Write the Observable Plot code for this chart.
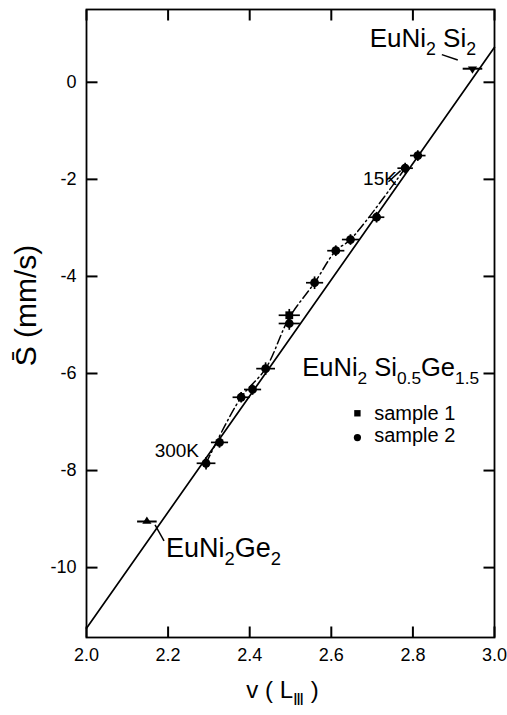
<!DOCTYPE html>
<html><head><meta charset="utf-8">
<script src="https://cdn.jsdelivr.net/npm/d3@7"></script>
<script src="https://cdn.jsdelivr.net/npm/@observablehq/plot@0.6"></script>
<style>html,body{margin:0;padding:0;background:#fff}</style>
</head><body><div id="chart"></div>
<script>
// ---- data ----
const xTicks = [2.0, 2.2, 2.4, 2.6, 2.8, 3.0];
const yTicks = [0, -2, -4, -6, -8, -10];
const xDomain = [2, 3];
const yDomain = [-11.44, 1.5];

// solid reference line
const fitV = [2.0, 3.0];
const fitS = [-11.25, 0.72];

// EuNi2Si0.5Ge1.5 measurements
const pointV = [2.293, 2.326, 2.379, 2.407, 2.439, 2.497, 2.497, 2.559, 2.611, 2.647, 2.711, 2.781, 2.812];
const pointS = [-7.85, -7.42, -6.49, -6.33, -5.90, -4.80, -4.97, -4.13, -3.47, -3.24, -2.78, -1.77, -1.51];
const pointSample = ["sample 2","sample 2","sample 2","sample 2","sample 2","sample 1","sample 2","sample 2","sample 2","sample 2","sample 2","sample 2","sample 2"];
const errV = [0.023, 0.021, 0.021, 0.021, 0.023, 0.026, 0.026, 0.021, 0.021, 0.021, 0.019, 0.019, 0.019];
const errS = [0.13, 0.11, 0.11, 0.11, 0.13, 0.13, 0.13, 0.13, 0.11, 0.11, 0.11, 0.11, 0.11];

// dash-dot guide through the temperature series (300K -> 15K)
const trendV = [2.293, 2.379, 2.439, 2.497, 2.559, 2.611, 2.647, 2.781];
const trendS = [-7.85, -6.49, -5.90, -4.85, -4.13, -3.47, -3.24, -1.77];

// end compounds
const refName = ["EuNi2Si2", "EuNi2Ge2"];
const refV = [2.946, 2.148];
const refS = [0.28, -9.05];
const refErrV = [0.024, 0.024];

// text annotations (x,y in data units, baseline-start)
const noteText = ["EuNi_{2} Si_{2}", "15K", "EuNi_{2} Si_{0.5}Ge_{1.5}", "300K", "EuNi_{2}Ge_{2}"];
const noteV = [2.694, 2.678, 2.529, 2.167, 2.195];
const noteS = [0.73, -2.12, -6.06, -7.72, -9.78];
const noteSize = [26, 19, 25.5, 19, 27];

// leader lines
const leadV1 = [2.871, 2.740, 2.168];
const leadS1 = [0.57, -2.05, -9.12];
const leadV2 = [2.910, 2.770, 2.190];
const leadS2 = [0.46, -1.82, -9.45];

// legend
const legendLabel = ["sample 1", "sample 2"];
const legendV = [2.664, 2.664];
const legendS = [-6.82, -7.32];
const legendTextV = [2.705, 2.705];
const legendTextS = [-6.96, -7.41];

const xLabel = "v ( L_{Ⅲ} )";
const yLabel = "S\u0304 (mm/s)";

// ---- layout ----
const W = 507, H = 715, mL = 86, mR = 13, mT = 9, mB = 78;
const frameW = W - mL - mR, frameH = H - mT - mB, tickPx = 11;
// inward tick length converted to data units through the frame size
const tx = tickPx * (xDomain[1] - xDomain[0]) / frameW;
const ty = tickPx * (yDomain[1] - yDomain[0]) / frameH;

// ---- symbols ----
const triDown = {draw(ctx, size){ const r = Math.sqrt(size/Math.PI); ctx.moveTo(-r, -r*0.5); ctx.lineTo(r, -r*0.5); ctx.lineTo(0, r*1.1); ctx.closePath(); }};
const triUp = {draw(ctx, size){ const r = Math.sqrt(size/Math.PI); ctx.moveTo(-r, r*0.5); ctx.lineTo(r, r*0.5); ctx.lineTo(0, -r*1.1); ctx.closePath(); }};

const idx = pointV.map((_, i) => i);
const refIdx = refV.map((_, i) => i);
const trendIdx = trendV.map((_, i) => i);
const noteIdx = noteText.map((_, i) => i);
const leadIdx = leadV1.map((_, i) => i);
const legIdx = legendLabel.map((_, i) => i);

const font = "'Liberation Sans', Arial, sans-serif";

const chart = Plot.plot({
  width: W, height: H,
  marginLeft: mL, marginRight: mR, marginTop: mT, marginBottom: mB,
  x: {domain: xDomain},
  y: {domain: yDomain},
  style: {fontFamily: font, fontSize: "18px", background: "white", color: "black"},
  marks: [
    Plot.frame({stroke: "black", strokeWidth: 1.8}),
    // inward ticks on all four sides
    Plot.link(xTicks, {x1: d => d, x2: d => d, y1: yDomain[0], y2: yDomain[0] + ty, stroke: "black", strokeWidth: 2}),
    Plot.link(xTicks, {x1: d => d, x2: d => d, y1: yDomain[1], y2: yDomain[1] - ty, stroke: "black", strokeWidth: 2}),
    Plot.link(yTicks, {x1: xDomain[0], x2: xDomain[0] + tx, y1: d => d, y2: d => d, stroke: "black", strokeWidth: 2}),
    Plot.link(yTicks, {x1: xDomain[1], x2: xDomain[1] - tx, y1: d => d, y2: d => d, stroke: "black", strokeWidth: 2}),
    // tick labels
    Plot.axisX(xTicks, {anchor: "bottom", tickSize: 0, tickPadding: 11, tickFormat: d => d.toFixed(1), label: null}),
    Plot.axisY(yTicks, {anchor: "left", tickSize: 0, tickPadding: 10, tickFormat: d => String(d), label: null}),
    // solid line
    Plot.line(fitV.map((_, i) => i), {x: i => fitV[i], y: i => fitS[i], stroke: "black", strokeWidth: 1.7}),
    // dash-dot line
    Plot.line(trendIdx, {x: i => trendV[i], y: i => trendS[i], stroke: "black", strokeWidth: 1.5, strokeDasharray: "9,3.5,1.5,3.5", curve: "catmull-rom"}),
    // error bars
    Plot.link(idx, {x1: i => pointV[i] - errV[i], x2: i => pointV[i] + errV[i], y1: i => pointS[i], y2: i => pointS[i], stroke: "black", strokeWidth: 1.7}),
    Plot.link(idx, {x1: i => pointV[i], x2: i => pointV[i], y1: i => pointS[i] - errS[i], y2: i => pointS[i] + errS[i], stroke: "black", strokeWidth: 1.7}),
    Plot.dot(idx, {x: i => pointV[i], y: i => pointS[i], symbol: i => pointSample[i] === "sample 1" ? "square" : "circle", r: 4.4, fill: "black", stroke: "none"}),
    // reference compounds
    Plot.link(refIdx, {x1: i => refV[i] - refErrV[i], x2: i => refV[i] + refErrV[i], y1: i => refS[i], y2: i => refS[i], stroke: "black", strokeWidth: 2}),
    Plot.dot(refIdx, {x: i => refV[i], y: i => refS[i], symbol: i => i === 0 ? triDown : triUp, r: 4.6, fill: "black", stroke: "none"}),
    // leader lines
    Plot.link(leadIdx, {x1: i => leadV1[i], y1: i => leadS1[i], x2: i => leadV2[i], y2: i => leadS2[i], stroke: "black", strokeWidth: 1.5}),
    // annotations
    Plot.text(noteIdx, {x: i => noteV[i], y: i => noteS[i], text: i => noteText[i], fontSize: i => noteSize[i], textAnchor: "start", lineAnchor: "bottom", fill: "black"}),
    // legend
    Plot.dot(legIdx, {x: i => legendV[i], y: i => legendS[i], symbol: i => i === 0 ? "square" : "circle", r: 3.6, fill: "black", stroke: "none"}),
    Plot.text(legIdx, {x: i => legendTextV[i], y: i => legendTextS[i], text: i => legendLabel[i], fontSize: 20, textAnchor: "start", lineAnchor: "bottom", fill: "black"}),
    // axis titles
    Plot.text([xLabel], {frameAnchor: "bottom", dy: 60, dx: -8, text: d => d, fontSize: 24, textAnchor: "middle", lineAnchor: "bottom", fill: "black"}),
    Plot.text([yLabel], {frameAnchor: "left", dx: -60, dy: -18, rotate: -90, text: d => d, fontSize: 30, textAnchor: "middle", lineAnchor: "middle", fill: "black"})
  ]
});
document.getElementById("chart").appendChild(chart);

// render _{...} as subscripts with real tspans
const NS = "http://www.w3.org/2000/svg";
chart.querySelectorAll("text").forEach(t => {
  const s = t.textContent;
  if (!s.includes("_{")) return;
  const fs = parseFloat(getComputedStyle(t).fontSize);
  const shift = fs * 0.3;
  t.textContent = "";
  let shifted = 0;
  for (const p of s.split(/(_\{[^}]*\})/)) {
    if (!p) continue;
    const ts = document.createElementNS(NS, "tspan");
    if (p.startsWith("_{")) {
      ts.textContent = p.slice(2, -1);
      ts.setAttribute("font-size", (fs * 0.68).toFixed(1));
      ts.setAttribute("dy", (shift - shifted).toFixed(1));
      shifted = shift;
    } else {
      ts.textContent = p;
      if (shifted) ts.setAttribute("dy", (-shifted).toFixed(1));
      shifted = 0;
    }
    t.appendChild(ts);
  }
});
</script>
</body></html>
